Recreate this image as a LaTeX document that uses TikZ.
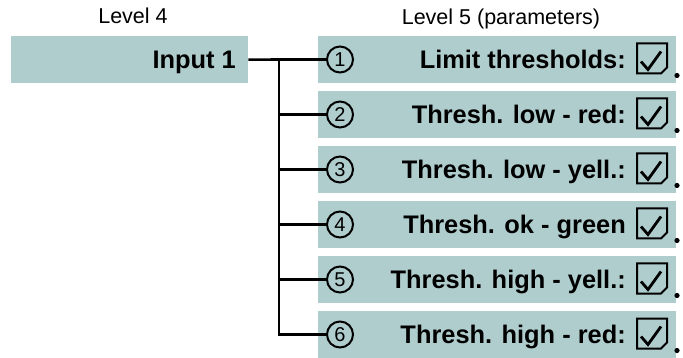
\documentclass[tikz,border=0pt]{standalone}
\usepackage{fontspec}
\setmainfont{Liberation Sans}
\definecolor{boxfill}{RGB}{176,205,206}

\begin{document}
\begin{tikzpicture}[x=1pt, y=-1pt,
  levelbox/.style={fill=boxfill, minimum height=47pt, inner sep=0pt, anchor=north west},
  itemtext/.style={font=\fontsize{25.4}{30}\selectfont\bfseries, anchor=base east, inner sep=0pt},
  numcircle/.style={draw, circle, line width=2pt, minimum size=26pt, inner sep=0pt, font=\fontsize{20}{22}\selectfont},
  leveltext/.style={font=\fontsize{21.5}{25}\selectfont, anchor=base, inner sep=0pt},
  wire/.style={line width=2.6pt}]
  \useasboundingbox (0,0) rectangle (683,358);
  \node[leveltext] (lev4) at (133,24) {Level 4};
  \node[leveltext] (lev5) at (501,25) {Level 5 (parameters)};
  \node[levelbox, minimum width=237pt] (in) at (11,36) {};
  \node[itemtext] (intext) at (236,68.5) {Input 1};
  \coordinate (j) at (279,59.5);
  \draw[wire] (in.east) -- (j);
  \foreach \i/\txt in {1/Limit thresholds:, 2/Thresh. low - red:, 3/Thresh. low - yell.:,
                       4/Thresh. ok - green, 5/Thresh. high - yell.:, 6/Thresh. high - red:} {
    \pgfmathsetmacro{\yc}{59.5+55*(\i-1)}
    \node[levelbox, minimum width=358pt] (b\i) at (318,\yc-23.5) {};
    \draw[wire] (j) |- (340-13,\yc);
    \node[numcircle] (n\i) at (340,\yc) {\i};
    \node[itemtext] (t\i) at (626,\yc+9) {\txt};
    % checkbox with cut corner
    \draw[line width=2pt, line join=miter] (637,\yc-16) -- (667,\yc-16) -- (667,\yc+8)
      -- (661,\yc+14) -- (637,\yc+14) -- cycle;
    \draw[line width=2.8pt] (641,\yc+2) -- (648,\yc+10) -- (661,\yc-8);
    \fill (677,\yc+16) circle (2.6pt);
  }
\end{tikzpicture}
\end{document}
